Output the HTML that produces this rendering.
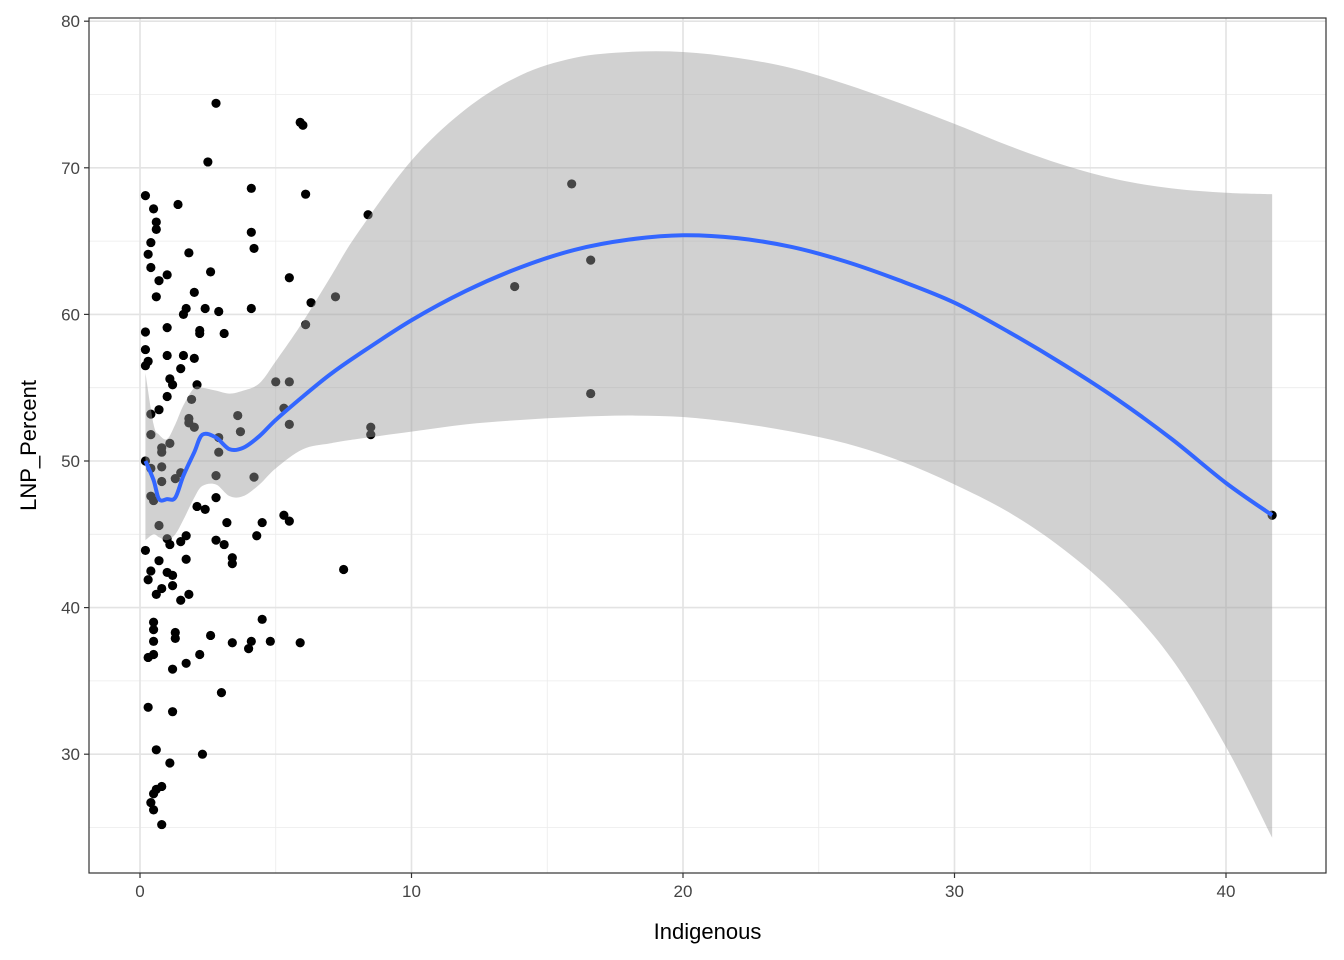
<!DOCTYPE html>
<html><head><meta charset="utf-8"><style>
body{margin:0;background:#fff}
svg{display:block;font-family:"Liberation Sans",Arial,sans-serif}
</style></head><body>
<svg id="chart" width="1344" height="960"></svg>
<script>
const ptX=[0.2,0.5,0.6,0.6,0.4,0.3,0.4,1.0,0.7,0.6,0.2,0.2,0.3,0.2,1.4,2.5,2.8,1.8,2.6,2.0,1.7,2.4,1.6,2.9,2.2,2.2,3.1,1.0,1.0,1.6,2.0,1.5,1.1,1.2,2.1,1.0,1.9,0.7,0.4,1.8,1.8,2.0,0.4,1.1,0.8,0.8,0.2,0.4,0.8,1.3,1.5,0.8,0.4,0.5,2.1,2.4,0.7,1.0,1.1,1.5,1.7,0.2,0.7,1.7,0.4,1.0,1.2,0.3,1.2,0.8,0.6,1.8,1.5,0.5,0.5,1.3,0.5,1.3,0.5,0.3,2.2,1.7,1.2,2.6,0.3,1.2,3.0,0.6,1.1,2.3,0.8,0.6,0.5,0.4,0.5,0.8,
4.1,4.1,4.2,4.1,5.9,6.0,6.1,5.5,6.3,6.1,7.2,8.4,5.0,5.5,5.3,5.5,3.6,3.7,8.5,8.5,2.9,2.9,2.8,4.2,2.8,5.3,5.5,4.5,3.2,4.3,2.8,3.1,3.4,3.4,7.5,4.5,4.1,4.0,3.4,4.8,5.9,
15.9,13.8,16.6,16.6,41.7];
const ptY=[68.1,67.2,66.3,65.8,64.9,64.1,63.2,62.7,62.3,61.2,58.8,57.6,56.8,56.5,67.5,70.4,74.4,64.2,62.9,61.5,60.4,60.4,60.0,60.2,58.9,58.7,58.7,59.1,57.2,57.2,57.0,56.3,55.6,55.2,55.2,54.4,54.2,53.5,53.2,52.9,52.6,52.3,51.8,51.2,50.9,50.6,50.0,49.5,49.6,48.8,49.2,48.6,47.6,47.3,46.9,46.7,45.6,44.7,44.3,44.5,44.9,43.9,43.2,43.3,42.5,42.4,42.2,41.9,41.5,41.3,40.9,40.9,40.5,39.0,38.5,38.3,37.7,37.9,36.8,36.6,36.8,36.2,35.8,38.1,33.2,32.9,34.2,30.3,29.4,30.0,27.8,27.6,27.3,26.7,26.2,25.2,
68.6,65.6,64.5,60.4,73.1,72.9,68.2,62.5,60.8,59.3,61.2,66.8,55.4,55.4,53.6,52.5,53.1,52.0,52.3,51.8,51.6,50.6,49.0,48.9,47.5,46.3,45.9,45.8,45.8,44.9,44.6,44.3,43.4,43.0,42.6,39.2,37.7,37.2,37.6,37.7,37.6,
68.9,61.9,63.7,54.6,46.3];
const fitX=[0.2,0.5,0.7,1,1.3,1.6,2,2.3,2.8,3.3,3.8,4.4,5,6,7,8,10,12,14,16,18,20,22,24,26,28,30,32,34,36,38,40,41.7];
const fitY=[50.0,48.7,47.4,47.4,47.5,49.0,50.6,51.8,51.6,50.8,50.9,51.7,52.8,54.4,55.9,57.2,59.6,61.6,63.2,64.4,65.1,65.4,65.2,64.6,63.6,62.3,60.8,58.8,56.6,54.2,51.5,48.5,46.3];
const upperY=[56,52.5,51.8,51.5,52.5,53.8,55,55,54.8,54.6,54.8,55.3,56.8,59.5,62.5,65.5,70.5,74,76.3,77.5,77.9,77.9,77.5,76.8,75.7,74.4,73,71.5,70.2,69.2,68.6,68.3,68.2];
const lowerY=[44.6,45,44.8,44.6,45,46,47.5,48.3,48.4,47.6,47.6,48.4,49.5,50.8,51.2,51.5,52,52.5,52.8,53,53.1,53,52.6,52,51.2,50,48.4,46.5,44,40.8,36.5,30.5,24.3];
const xTicks=[0,10,20,30,40];
const yTicks=[30,40,50,60,70,80];

const NS='http://www.w3.org/2000/svg';
const svg=document.getElementById('chart');
const L=89,R=1326,T=18,B=873;
const sx=v=>140+v*27.15;
const sy=v=>461-(v-50)*14.66;
function mk(tag,at,parent){const e=document.createElementNS(NS,tag);for(const k in at)e.setAttribute(k,at[k]);(parent||svg).appendChild(e);return e;}
function spline(pts,start){let d=start?'M'+pts[0][0]+','+pts[0][1]:'L'+pts[0][0]+','+pts[0][1];
for(let i=0;i<pts.length-1;i++){const p0=pts[Math.max(i-1,0)],p1=pts[i],p2=pts[i+1],p3=pts[Math.min(i+2,pts.length-1)];
const c1=[p1[0]+(p2[0]-p0[0])/6,p1[1]+(p2[1]-p0[1])/6],c2=[p2[0]-(p3[0]-p1[0])/6,p2[1]-(p3[1]-p1[1])/6];
d+='C'+c1[0]+','+c1[1]+' '+c2[0]+','+c2[1]+' '+p2[0]+','+p2[1];}return d;}
const g=mk('g',{});


[5,15,25,35].forEach(v=>mk('line',{x1:sx(v),x2:sx(v),y1:T,y2:B,stroke:'#ebebeb','stroke-width':0.8},g));
[25,35,45,55,65,75].forEach(v=>mk('line',{x1:L,x2:R,y1:sy(v),y2:sy(v),stroke:'#ebebeb','stroke-width':0.8},g));
xTicks.forEach(v=>mk('line',{x1:sx(v),x2:sx(v),y1:T,y2:B,stroke:'#e3e3e3','stroke-width':1.6},g));
yTicks.forEach(v=>mk('line',{x1:L,x2:R,y1:sy(v),y2:sy(v),stroke:'#e3e3e3','stroke-width':1.6},g));
const pg=mk('g',{});


ptX.forEach((x,i)=>{const c=mk('circle',{cx:sx(x),cy:sy(ptY[i]),r:4.6,fill:'#000'},pg);

});
const up=fitX.map((x,i)=>[sx(x),sy(upperY[i])]);
const lo=fitX.map((x,i)=>[sx(x),sy(lowerY[i])]).reverse();
const band=mk('path',{d:spline(up,true)+spline(lo,false)+'Z',fill:'#999999','fill-opacity':0.45});


const line=mk('path',{d:spline(fitX.map((x,i)=>[sx(x),sy(fitY[i])]),true),fill:'none',stroke:'#3366ff','stroke-width':4,'stroke-linejoin':'round'});


const border=mk('rect',{x:L,y:T,width:R-L,height:B-T,fill:'none',stroke:'#333','stroke-width':1.2});


xTicks.forEach(v=>{mk('line',{x1:sx(v),x2:sx(v),y1:B,y2:B+5,stroke:'#333','stroke-width':1.2});
const t=mk('text',{x:sx(v),y:B+24,'text-anchor':'middle','font-size':17,fill:'#444'});t.textContent=v;

});
yTicks.forEach(v=>{mk('line',{x1:L-5,x2:L,y1:sy(v),y2:sy(v),stroke:'#333','stroke-width':1.2});
const t=mk('text',{x:L-9,y:sy(v)+6,'text-anchor':'end','font-size':17,fill:'#444'});t.textContent=v;

});
const xt=mk('text',{x:(L+R)/2,y:939,'text-anchor':'middle','font-size':22,fill:'#000'});xt.textContent='Indigenous';


const yt=mk('text',{x:0,y:0,transform:'translate(36,'+((T+B)/2)+') rotate(-90)','text-anchor':'middle','font-size':22,fill:'#000'});yt.textContent='LNP_Percent';


</script>
</body></html>
